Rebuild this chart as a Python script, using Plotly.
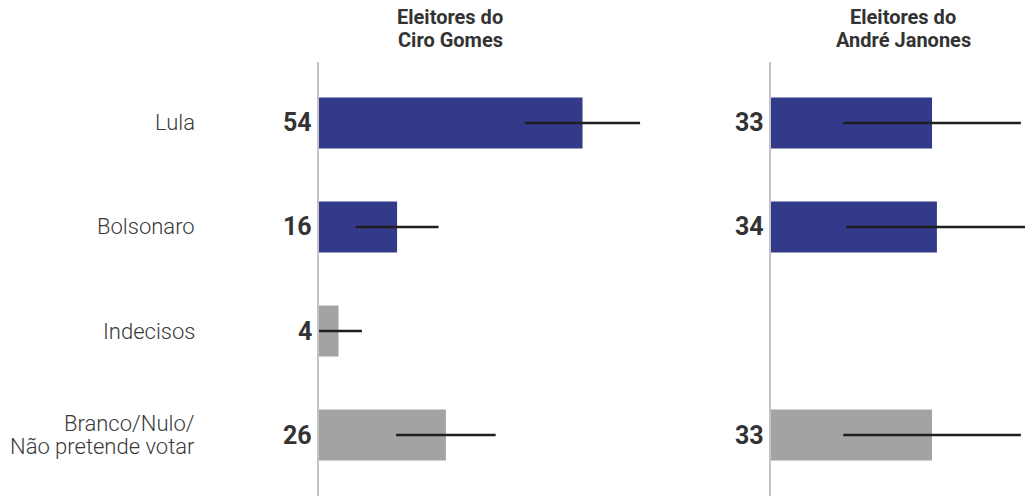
import plotly.graph_objects as go
from plotly.subplots import make_subplots

# categorias (de cima para baixo)
categorias = ["Lula", "Bolsonaro", "Indecisos", "Branco/Nulo/<br>Não pretende votar"]

ciro_valores = [54, 16, 4, 26]
ciro_erro = [11.8, 8.5, 4.8, 10.2]

janones_valores = [33, 34, None, 33]
janones_erro = [18.2, 18.6, None, 18.2]

cores = ["#343a8a", "#343a8a", "#a3a3a3", "#a3a3a3"]

titulos = ["Eleitores do<br>Ciro Gomes", "Eleitores do<br>André Janones"]

W, H = 1025, 496
PX_POR_UNIDADE = 4.88
ESQ_INICIO, DIR_INICIO = 319, 771
ENTRELINHA = 23

fig = make_subplots(rows=1, cols=2, shared_yaxes=False, horizontal_spacing=0.05)

for col, (valores, erros) in enumerate([(ciro_valores, ciro_erro), (janones_valores, janones_erro)], start=1):
    fig.add_trace(go.Bar(
        y=categorias, x=valores, orientation="h",
        marker=dict(color=cores, line=dict(width=0)),
        width=0.49,
        error_x=dict(type="data", array=erros, visible=True, color="#1f1f1f",
                     thickness=2.5, width=0),
        hoverinfo="skip", showlegend=False,
    ), row=1, col=col)
    # números à esquerda do eixo
    eixo_x = "x" if col == 1 else "x2"
    eixo_y = "y" if col == 1 else "y2"
    for cat, v in zip(categorias, valores):
        if v is None:
            continue
        fig.add_annotation(text=str(v), xref=eixo_x, yref=eixo_y, x=0, y=cat,
                           xanchor="right", yanchor="middle", xshift=-5, showarrow=False,
                           font=dict(family="Roboto", size=25, color="#333333", weight="bold"))

y_range = [3.585, -0.585]
fig.update_yaxes(range=y_range, showticklabels=False, showgrid=False, zeroline=False,
                 showline=True, linecolor="#c4c4c4", linewidth=2, ticks="",
                 type="category")

esq_range = 80
dir_range = (W - DIR_INICIO) / PX_POR_UNIDADE
fig.update_layout(
    xaxis=dict(domain=[ESQ_INICIO / W, (ESQ_INICIO + esq_range * PX_POR_UNIDADE) / W],
               range=[0, esq_range], visible=False),
    xaxis2=dict(domain=[DIR_INICIO / W, 1], range=[0, dir_range], visible=False),
)

# rótulos das categorias (uma anotação por linha para controlar a entrelinha)
for cat in categorias:
    linhas = cat.split("<br>")
    n = len(linhas)
    for i, linha in enumerate(linhas):
        fig.add_annotation(text=linha, xref="paper", yref="y", x=197 / W, y=cat,
                           xanchor="right", yanchor="middle", showarrow=False,
                           yshift=((n - 1) / 2 - i) * ENTRELINHA,
                           font=dict(family="Roboto Light, Roboto", size=22, color="#3a3a3a", weight=300))

# títulos das colunas
for xc, t in zip([450, 903], titulos):
    for i, linha in enumerate(t.split("<br>")):
        fig.add_annotation(text=linha, xref="paper", yref="paper", x=xc / W, y=1,
                           yshift=62 - 17 - i * ENTRELINHA, xanchor="center", yanchor="middle",
                           showarrow=False,
                           font=dict(family="Roboto", size=20, color="#333333", weight="bold"))

fig.update_layout(
    width=W, height=H,
    margin=dict(l=0, r=0, t=62, b=0),
    plot_bgcolor="white", paper_bgcolor="white",
    bargap=0.5,
)

fig.write_html("out.html", config={"displayModeBar": False},
               post_script="document.body.style.margin='0';")
